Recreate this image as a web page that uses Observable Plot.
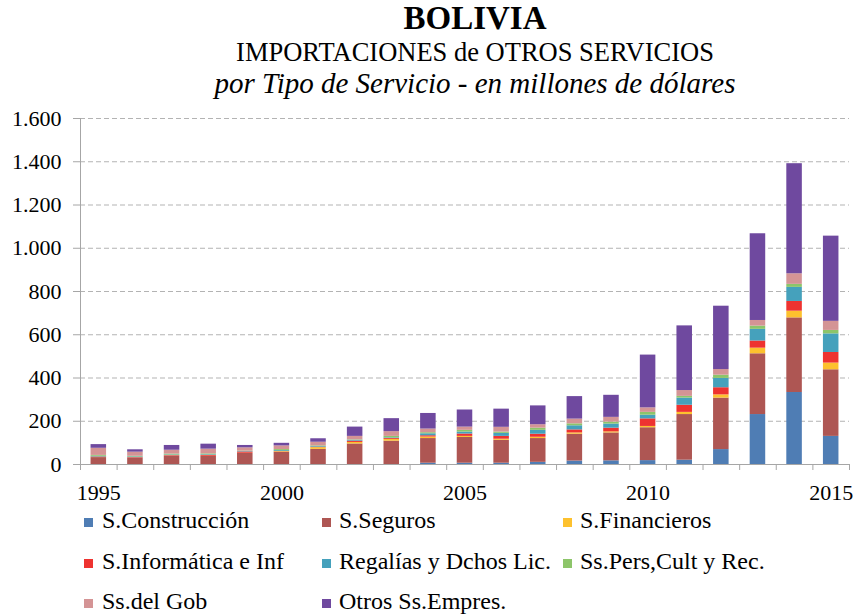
<!DOCTYPE html>
<html><head><meta charset="utf-8">
<script src="https://cdn.jsdelivr.net/npm/d3@7"></script>
<script src="https://cdn.jsdelivr.net/npm/@observablehq/plot@0.6"></script>
<style>
body{margin:0;background:#fff;}
#page{position:relative;width:857px;height:614px;font-family:"Liberation Serif","Times New Roman",serif;color:#000;overflow:hidden;background:#fff}
.t{position:absolute;left:0;width:950px;text-align:center;line-height:1;white-space:nowrap}
#chart{position:absolute;left:0;top:105px}
.lg{position:absolute;font-size:24px;line-height:1;white-space:nowrap}
.sw{position:absolute;width:9px;height:9px}
</style></head>
<body><div id="page">
<div class="t" style="top:2px;font-size:33px;font-weight:bold">BOLIVIA</div>
<div class="t" style="top:39px;font-size:26.5px">IMPORTACIONES de OTROS SERVICIOS</div>
<div class="t" style="top:69px;font-size:29px;font-style:italic">por Tipo de Servicio - en millones de dólares</div>
<div id="chart"></div>
<div id="legend"></div>
</div>
<script>
const years = [1995,1996,1997,1998,1999,2000,2001,2002,2003,2004,2005,2006,2007,2008,2009,2010,2011,2012,2013,2014,2015];
const construccion = [0,0,0,0,0,0,0,0,0,6,6,6,10,16,17,18,20,69,231,333,130];
const seguros      = [32,30,37,37,51,56,70,95,108,114,119,106,110,124,129,152,211,238,281,345,308];
const financieros  = [1,0,1,1,1,3,8,7,8,7,5,5,6,6,5,6,10,15,26,31,31];
const informatica  = [2,2,3,4,6,1,2,6,4,6,11,13,14,14,17,35,33,33,33,45,49];
const regalias     = [3,3,3,3,2,4,3,4,3,9,9,14,18,19,19,17,33,43,54,65,86];
const personales   = [4,3,4,4,2,5,3,2,7,5,8,6,10,9,9,13,8,15,15,14,16];
const gobierno     = [33,19,18,22,15,17,17,16,22,17,15,22,16,22,22,21,27,26,26,49,42];
const otrosEmpres  = [17,11,22,23,11,12,16,43,60,72,79,84,87,104,102,244,299,293,401,509,394];

const seriesNames = ["S.Construcción","S.Seguros","S.Financieros","S.Informática e Inf","Regalías y Dchos Lic.","Ss.Pers,Cult y Rec.","Ss.del Gob","Otros Ss.Empres."];
const seriesColors = ["#4F7DB4","#AE5653","#FDC12E","#EE3330","#45A1BC","#8DC56A","#D49495","#6F499F"];
const yTicks = [0,200,400,600,800,1000,1200,1400,1600];
const xLabelYears = [1995,2000,2005,2010,2015];

const seriesValues = [construccion,seguros,financieros,informatica,regalias,personales,gobierno,otrosEmpres];
const rows = years.flatMap((yr,i)=>seriesValues.map((vals,j)=>({year:yr, series:seriesNames[j], value:vals[i]})));
const tickPositions = years.map(y=>y-0.5).concat([years[years.length-1]+0.5]);
const x0 = years[0]-0.5, x1 = years[years.length-1]+0.5;
const fmt = d => d3.format(",")(d).replace(/,/g,".");
const axisGray = "#A6A6A6";

const plot = Plot.plot({
  width: 857, height: 400,
  marginTop: 13, marginBottom: 41, marginLeft: 80, marginRight: 8,
  style: {fontFamily: "Liberation Serif, Times New Roman, serif", fontSize: "22px", color: "#000", background: "#fff"},
  x: {type: "linear", domain: [x0, x1], ticks: xLabelYears, tickFormat: d => String(d), tickSize: 0, tickPadding: 20, label: null},
  y: {domain: [0, 1600], ticks: yTicks, tickFormat: fmt, tickSize: 0, tickPadding: 19, label: null},
  color: {domain: seriesNames, range: seriesColors},
  marks: [
    Plot.ruleY(yTicks.filter(d => d > 0), {stroke: "#B3B3B3", strokeDasharray: "5,3"}),
    Plot.rectY(rows, Plot.stackY({x: "year", x1: d => d.year - 0.212, x2: d => d.year + 0.212, y: "value", fill: "series"})),
    Plot.ruleY([0], {stroke: axisGray}),
    Plot.ruleX([x0], {stroke: axisGray}),
    Plot.ruleX(tickPositions, {y1: 0, y2: 0, insetBottom: -6, stroke: axisGray}),
    Plot.ruleY(yTicks, {x1: x0, x2: x0, insetLeft: -7, stroke: axisGray})
  ]
});
document.getElementById("chart").appendChild(plot);

const legendPos = [[84,102],[322,339],[563,580]];
const legendRowsTop = [508,548.5,589];
const legend = document.getElementById("legend");
seriesNames.forEach((name,k)=>{
  const col = k % 3, row = Math.floor(k / 3);
  const sw = document.createElement("div");
  sw.className = "sw";
  sw.style.left = legendPos[col][0] + "px";
  sw.style.top = (legendRowsTop[row] + 10) + "px";
  sw.style.background = seriesColors[k];
  legend.appendChild(sw);
  const tx = document.createElement("div");
  tx.className = "lg";
  tx.style.left = legendPos[col][1] + "px";
  tx.style.top = legendRowsTop[row] + "px";
  tx.textContent = name;
  legend.appendChild(tx);
});
</script>
</body></html>
